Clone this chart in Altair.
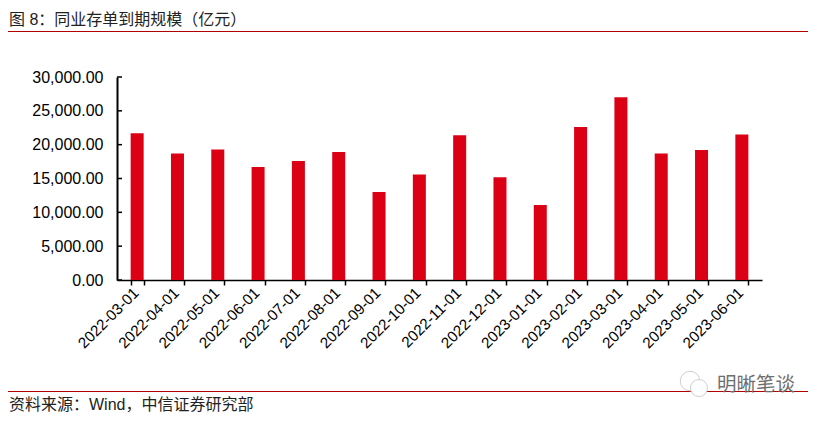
import altair as alt
import pandas as pd

dates = ["2022-03-01","2022-04-01","2022-05-01","2022-06-01","2022-07-01","2022-08-01","2022-09-01","2022-10-01",
         "2022-11-01","2022-12-01","2023-01-01","2023-02-01","2023-03-01","2023-04-01","2023-05-01","2023-06-01"]
values = [21700,18700,19300,16700,17600,18900,13000,15600,21400,15200,11100,22600,27000,18700,19200,21500]
yticks = [0,5000,10000,15000,20000,25000,30000]
title_text = "图 8：同业存单到期规模（亿元）"
source_text = "资料来源：Wind，中信证券研究部"
mark_text = "明晰笔谈"

CJK = "Liberation Sans, Noto Sans CJK SC"
LAT = "Liberation Sans"
RED = "#DC0014"
LINE = "#B00000"
W, H = 645, 203
LEFT, TOP = 109, 69

df = pd.DataFrame({"date": dates, "value": values})
tick_df = pd.DataFrame({"t": yticks})
one = pd.DataFrame({"a": [0]})

x = alt.X("date:N", sort=dates, title=None,
          scale=alt.Scale(paddingInner=0.68, paddingOuter=0.34),
          axis=alt.Axis(labelAngle=315, labelAlign="right", labelBaseline="middle",
                        labelFont=LAT, labelFontSize=15.3, labelColor="#000", labelPadding=5, labelOffset=-1.5,
                        labelOverlap=False, tickBand="extent", tickColor="#000", tickSize=5, tickWidth=1.5,
                        domainColor="#000", domainWidth=1.5))
y_scale = alt.Scale(domain=[0, 30000], nice=False)
y_axis = alt.Axis(values=yticks, format=",.2f", labelFont=LAT, labelFontSize=16, labelColor="#000",
                  labelPadding=14, tickSize=0, domainColor="#000", domainWidth=2, grid=False)
y = alt.Y("value:Q", title=None, scale=y_scale, axis=y_axis)

bars = alt.Chart(df).mark_bar(color=RED, size=13).encode(x=x, y=y)

ticks = alt.Chart(tick_df).mark_rule(color="#000", strokeWidth=1.5).encode(
    x=alt.value(0), x2=alt.value(5), y=alt.Y("t:Q", scale=y_scale, axis=y_axis, title=None))


def text(s, px, py, size, color, font=CJK, align="left"):
    return alt.Chart(one).mark_text(text=s, font=font, fontSize=size, color=color, align=align,
                                    baseline="middle").encode(x=alt.value(px), y=alt.value(py))


def hline(py):
    return alt.Chart(one).mark_rule(color=LINE, strokeWidth=1).encode(
        x=alt.value(8 - 117), x2=alt.value(808 - 117), y=alt.value(py))


def bubble(px, py, sz):
    return alt.Chart(one).mark_point(shape="circle", size=sz, filled=True, fill="#fff", stroke="#CFCFCF",
                                     strokeWidth=1, opacity=1).encode(x=alt.value(px), y=alt.value(py))


chart = alt.layer(
    bars, ticks,
    hline(31.5 - 77), hline(391.5 - 77),
    text(title_text, 9 - 117, 20 - 77, 16, "#222"),
    text(source_text, 9 - 117, 405 - 77, 16, "#222"),
    bubble(690 - 117, 381 - 77, 380),
    bubble(699 - 117, 388 - 77, 290),
    text(mark_text, 717 - 117, 385 - 77, 19.5, "#6E6E6E"),
).properties(
    width=W, height=H,
    autosize=alt.AutoSizeParams(type="none"),
    padding={"left": LEFT, "top": TOP, "right": 822 - 16 - LEFT - W, "bottom": 405 - TOP - H},
    background="#ffffff",
).configure_view(stroke=None)

chart.save("out.html", embed_options={"renderer": "svg", "actions": False})
